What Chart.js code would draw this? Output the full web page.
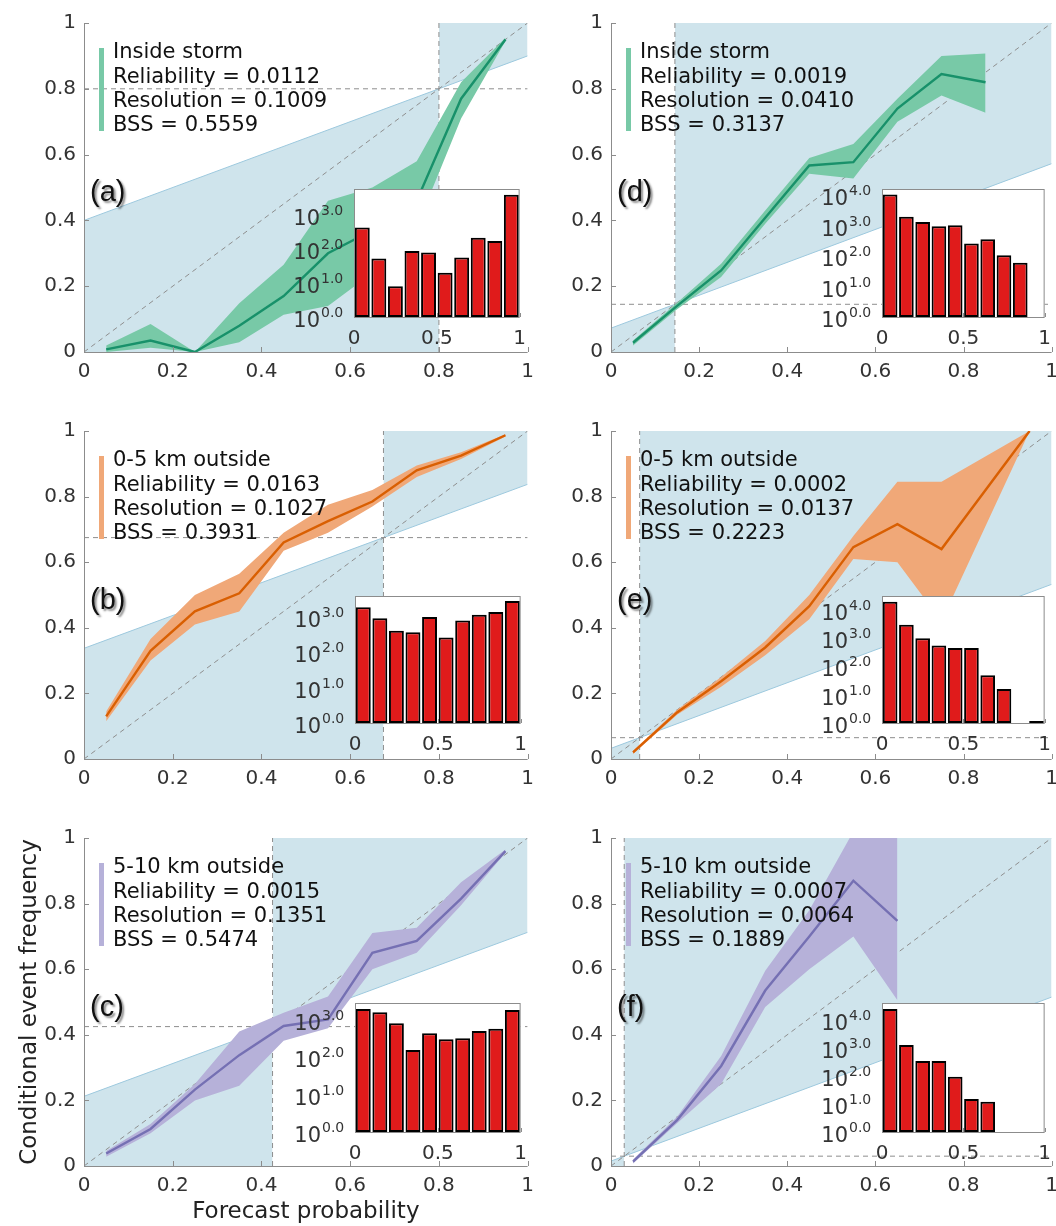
<!DOCTYPE html>
<html>
<head>
<meta charset="utf-8">
<script src="https://cdn.jsdelivr.net/npm/chart.js@4.4.0/dist/chart.umd.min.js"></script>
<style>
  body { margin: 0; background: #fff; overflow: hidden; }
  #page { position: relative; width: 1056px; height: 1226px; overflow: hidden; }
  #page canvas { position: absolute; }
</style>
</head>
<body>
<div id="page"></div>
<script>
// ---- data ----
const binCentres = [0.05, 0.15, 0.25, 0.35, 0.45, 0.55, 0.65, 0.75, 0.85, 0.95];

const panelTags   = ['(a)', '(b)', '(c)', '(d)', '(e)', '(f)'];
const regionNames = ['Inside storm', '0-5 km outside', '5-10 km outside',
                     'Inside storm', '0-5 km outside', '5-10 km outside'];
const reliability = ['0.0112', '0.0163', '0.0015', '0.0019', '0.0002', '0.0007'];
const resolution  = ['0.1009', '0.1027', '0.1351', '0.0410', '0.0137', '0.0064'];
const bss         = ['0.5559', '0.3931', '0.5474', '0.3137', '0.2223', '0.1889'];
const climatology = [0.8, 0.675, 0.425, 0.145, 0.065, 0.03];

// conditional event frequency per forecast bin (null = empty bin) and its band
const freqA  = [0.008, 0.035, 0.0, 0.08, 0.17, 0.30, 0.37, 0.46, 0.77, 0.95];
const upperA = [0.020, 0.085, 0.0, 0.148, 0.265, 0.46, 0.50, 0.58, 0.82, 0.955];
const lowerA = [0.0, 0.013, 0.0, 0.03, 0.113, 0.14, 0.24, 0.38, 0.71, 0.945];

const freqB  = [0.13, 0.33, 0.45, 0.505, 0.66, 0.725, 0.785, 0.88, 0.925, 0.987];
const upperB = [0.145, 0.366, 0.50, 0.565, 0.69, 0.775, 0.82, 0.895, 0.935, 0.99];
const lowerB = [0.115, 0.30, 0.41, 0.45, 0.635, 0.69, 0.77, 0.86, 0.915, 0.983];

const freqC  = [0.038, 0.113, 0.233, 0.338, 0.427, 0.447, 0.65, 0.686, 0.815, 0.96];
const upperC = [0.046, 0.128, 0.25, 0.41, 0.467, 0.517, 0.71, 0.726, 0.865, 0.965];
const lowerC = [0.028, 0.10, 0.20, 0.245, 0.382, 0.42, 0.60, 0.65, 0.795, 0.955];

const freqD  = [0.028, 0.14, 0.248, 0.408, 0.567, 0.577, 0.74, 0.845, 0.82, null];
const upperD = [0.035, 0.15, 0.268, 0.43, 0.59, 0.632, 0.77, 0.90, 0.907, null];
const lowerD = [0.02, 0.13, 0.228, 0.39, 0.542, 0.527, 0.70, 0.78, 0.727, null];

const freqE  = [0.02, 0.142, 0.237, 0.34, 0.466, 0.646, 0.716, 0.64, null, 1.0];
const upperE = [0.025, 0.15, 0.25, 0.36, 0.50, 0.68, 0.845, 0.845, null, 1.0];
const lowerE = [0.015, 0.135, 0.22, 0.316, 0.426, 0.61, 0.60, 0.42, null, 1.0];

const freqF  = [0.013, 0.14, 0.305, 0.535, 0.70, 0.87, 0.747, null, null, null];
const upperF = [0.02, 0.15, 0.335, 0.595, 0.78, 1.02, 1.1, null, null, null];
const lowerF = [0.008, 0.13, 0.25, 0.485, 0.60, 0.70, 0.505, null, null, null];

// forecast counts per bin (insets, log scale; 0 = no forecasts)
const countsA = [427, 52, 8, 87, 79, 20, 56, 214, 170, 3890];
const countsB = [1820, 891, 398, 363, 977, 257, 776, 1122, 1349, 2754];
const countsC = [1950, 1585, 813, 155, 437, 302, 324, 501, 575, 1820];
const countsD = [10470, 1950, 1318, 955, 1023, 257, 355, 107, 60, 0];
const countsE = [19500, 2950, 1000, 550, 447, 447, 49, 16, 0, 1];
const countsF = [24550, 1259, 339, 339, 93, 15, 12, 0, 0, 0];

// inset axis ranges: log10 of the upper limit, highest labelled decade
const countAxisTop = [3.76, 3.58, 3.45, 4.2, 4.49, 4.6];
const countLabelTop = [3, 3, 3, 4, 4, 4];

const freqs  = [freqA, freqB, freqC, freqD, freqE, freqF];
const uppers = [upperA, upperB, upperC, upperD, upperE, upperF];
const lowers = [lowerA, lowerB, lowerC, lowerD, lowerE, lowerF];
const counts = [countsA, countsB, countsC, countsD, countsE, countsF];

// ---- layout and styling ----
const plotBoxes = [
  {l: 84, t: 17, r: 528, b: 352}, {l: 84, t: 425, r: 528, b: 759}, {l: 84, t: 832, r: 528, b: 1166},
  {l: 611, t: 17, r: 1052, b: 352}, {l: 611, t: 425, r: 1052, b: 759}, {l: 611, t: 832, r: 1052, b: 1166}
];
const insetBoxes = [
  {l: 354, t: 189, r: 526, b: 317}, {l: 355, t: 596, r: 527, b: 723}, {l: 355, t: 1003, r: 527, b: 1132},
  {l: 882, t: 189, r: 1051, b: 317}, {l: 882, t: 596, r: 1051, b: 723}, {l: 882, t: 1003, r: 1051, b: 1132}
];
const lineColour = ['#18916a', '#d95f02', '#7570b3', '#18916a', '#d95f02', '#7570b3'];
const bandColour = ['#78c9a7', '#f0a878', '#b6b1d9', '#78c9a7', '#f0a878', '#b6b1d9'];
const skillFill = '#cfe4ec';
const skillEdge = '#9dc9de';
const dashGrey = '#8e8e8e';
const axisGrey = '#8c8c8c';
const tickText = '#333333';

Chart.defaults.font.family = '"DejaVu Sans"';
const page = document.getElementById('page');

// 0, 0.2, ..., 1 without trailing ".0"
const plainTick = v => String(Math.round(v * 10) / 10);

function pts(xs, ys) {
  const out = [];
  ys.forEach((v, k) => { if (v !== null) out.push({x: xs[k], y: v}); });
  return out;
}

const panelDecor = {
  id: 'panelDecor',
  afterDraw(chart, args, o) {
    const {ctx, chartArea: a, scales: {x, y}} = chart;
    ctx.save();
    ctx.strokeStyle = axisGrey;
    ctx.lineWidth = 1;
    ctx.beginPath();
    ctx.moveTo(a.left + 0.5, a.top);
    ctx.lineTo(a.left + 0.5, a.bottom + 0.5);
    ctx.lineTo(a.right, a.bottom + 0.5);
    x.ticks.forEach(t => {
      const px = Math.round(x.getPixelForValue(t.value)) + 0.5;
      ctx.moveTo(px, a.bottom);
      ctx.lineTo(px, a.bottom - 5);
    });
    y.ticks.forEach(t => {
      const py = Math.round(y.getPixelForValue(t.value)) + 0.5;
      ctx.moveTo(a.left, py);
      ctx.lineTo(a.left + 5, py);
    });
    ctx.stroke();

    // text legend with coloured bar
    ctx.fillStyle = o.band;
    ctx.fillRect(a.left + 15, a.top + 25, 5, 83);
    ctx.fillStyle = '#111';
    ctx.font = '21px "DejaVu Sans"';
    ctx.textAlign = 'left';
    ctx.textBaseline = 'middle';
    o.lines.forEach((s, k) => ctx.fillText(s, a.left + 29, a.top + 30 + k * 24.3));

    // panel tag with soft shadow
    ctx.font = '29px "Liberation Sans"';
    ctx.shadowColor = 'rgba(0,0,0,0.45)';
    ctx.shadowOffsetX = 2;
    ctx.shadowOffsetY = 2;
    ctx.shadowBlur = 2;
    ctx.fillStyle = '#111';
    ctx.fillText(o.tag, a.left + 6, a.top + 170);
    ctx.restore();
  }
};

const insetDecor = {
  id: 'insetDecor',
  beforeDatasetsDraw(chart) {
    const {ctx, chartArea: a} = chart;
    ctx.save();
    ctx.fillStyle = '#fff';
    ctx.fillRect(a.left, a.top, a.right - a.left, a.bottom - a.top);
    ctx.restore();
  },
  afterDraw(chart, args, o) {
    const {ctx, chartArea: a, scales: {x, y}} = chart;
    ctx.save();
    ctx.strokeStyle = axisGrey;
    ctx.lineWidth = 1;
    ctx.strokeRect(a.left + 0.5, a.top + 0.5, a.right - a.left - 1, a.bottom - a.top);
    ctx.beginPath();
    x.ticks.forEach(t => {
      const px = Math.round(x.getPixelForValue(t.value)) + 0.5;
      ctx.moveTo(px, a.bottom);
      ctx.lineTo(px, a.bottom - 4);
    });
    ctx.stroke();
    ctx.fillStyle = tickText;
    ctx.textBaseline = 'alphabetic';
    for (let k = 0; k <= o.topExp; k++) {
      const py = y.getPixelForValue(Math.pow(10, k));
      ctx.font = '21px "DejaVu Sans"';
      ctx.textAlign = 'right';
      ctx.fillText('10', a.left - 34, py + 10);
      ctx.font = '14px "DejaVu Sans"';
      ctx.textAlign = 'left';
      ctx.fillText(k.toFixed(1), a.left - 33, py);
    }
    ctx.restore();
  }
};

function makePanel(i) {
  const box = plotBoxes[i];
  const yW = i === 2 ? 84 : 60;
  const xH = i === 2 ? 66 : 40;
  const padTop = 14, padRight = 14;
  const cv = document.createElement('canvas');
  cv.width = box.r - box.l + yW + padRight;
  cv.height = box.b - box.t + padTop + xH;
  cv.style.left = (box.l - yW) + 'px';
  cv.style.top = (box.t - padTop) + 'px';
  page.appendChild(cv);

  const c = climatology[i];
  const dashed = {borderColor: dashGrey, borderWidth: 1, borderDash: [5, 4], fill: false, order: 3};
  const skill = {borderColor: skillEdge, borderWidth: 1, backgroundColor: skillFill, order: 4};

  new Chart(cv.getContext('2d'), {
    type: 'line',
    data: {
      datasets: [
        {data: pts(binCentres, freqs[i]), borderColor: lineColour[i], borderWidth: 2.4, fill: false, order: 0},
        {data: pts(binCentres, uppers[i]), borderWidth: 0, borderColor: 'transparent',
         backgroundColor: bandColour[i], fill: '+1', order: 1},
        {data: pts(binCentres, lowers[i]), borderWidth: 0, borderColor: 'transparent', fill: false, order: 2},
        Object.assign({data: [{x: 0, y: 0}, {x: 1, y: 1}]}, dashed),
        Object.assign({data: [{x: 0, y: c}, {x: 1, y: c}]}, dashed),
        Object.assign({data: [{x: c, y: 0}, {x: c, y: 1}]}, dashed),
        Object.assign({data: [{x: 0, y: c / 2}, {x: c, y: c}], fill: 'origin'}, skill),
        Object.assign({data: [{x: c, y: c}, {x: 1, y: (1 + c) / 2}], fill: 'end'}, skill)
      ]
    },
    options: {
      responsive: false,
      animation: false,
      events: [],
      layout: {padding: {left: 0, top: padTop, right: padRight, bottom: 0}},
      elements: {point: {radius: 0}, line: {tension: 0}},
      plugins: {
        legend: {display: false},
        tooltip: {enabled: false},
        panelDecor: {
          band: bandColour[i],
          tag: panelTags[i],
          lines: [regionNames[i], 'Reliability = ' + reliability[i],
                  'Resolution = ' + resolution[i], 'BSS = ' + bss[i]]
        }
      },
      scales: {
        x: {
          type: 'linear', min: 0, max: 1,
          grid: {display: false, drawTicks: false},
          border: {display: false},
          ticks: {stepSize: 0.2, padding: 8, color: tickText, font: {size: 20}, maxRotation: 0,
                  autoSkip: false, callback: plainTick},
          title: {display: i === 2, text: 'Forecast probability', color: '#222',
                  font: {size: 23}, padding: {top: 0, bottom: 6}},
          afterFit: s => { s.height = xH; }
        },
        y: {
          type: 'linear', min: 0, max: 1,
          grid: {display: false, drawTicks: false},
          border: {display: false},
          ticks: {stepSize: 0.2, padding: 8, color: tickText, font: {size: 20}, autoSkip: false,
                  callback: plainTick},
          title: {display: i === 2, text: 'Conditional event frequency', color: '#222',
                  font: {size: 23}, padding: {top: 16, bottom: 0}},
          afterFit: s => { s.width = yW; }
        }
      }
    },
    plugins: [panelDecor]
  });
}

function makeInset(i) {
  const b = insetBoxes[i];
  const padL = 70, padT = 6, padR = 10, xH = 34;
  const cv = document.createElement('canvas');
  cv.width = b.r - b.l + padL + padR;
  cv.height = b.b - b.t + padT + xH;
  cv.style.left = (b.l - padL) + 'px';
  cv.style.top = (b.t - padT) + 'px';
  page.appendChild(cv);

  const bars = [];
  counts[i].forEach((v, k) => { if (v > 0) bars.push({x: binCentres[k], y: v}); });

  new Chart(cv.getContext('2d'), {
    type: 'bar',
    data: {
      datasets: [{
        data: bars,
        backgroundColor: '#e01b1b',
        borderColor: '#000',
        borderWidth: 2,
        borderSkipped: false,
        barPercentage: 0.9,
        categoryPercentage: 1,
        minBarLength: 2
      }]
    },
    options: {
      responsive: false,
      animation: false,
      events: [],
      layout: {padding: {left: padL, top: padT, right: padR, bottom: 0}},
      plugins: {
        legend: {display: false},
        tooltip: {enabled: false},
        insetDecor: {topExp: countLabelTop[i]}
      },
      scales: {
        x: {
          type: 'linear', min: 0, max: 1, offset: false,
          grid: {display: false, drawTicks: false},
          border: {display: false},
          ticks: {stepSize: 0.5, padding: 10, color: tickText, font: {size: 20}, maxRotation: 0,
                  autoSkip: false, callback: plainTick},
          afterFit: s => { s.height = xH; }
        },
        y: {
          type: 'logarithmic', min: 1, max: Math.pow(10, countAxisTop[i]),
          display: false
        }
      }
    },
    plugins: [insetDecor]
  });
}

for (let i = 0; i < 6; i++) makePanel(i);
for (let i = 0; i < 6; i++) makeInset(i);
</script>
</body>
</html>
